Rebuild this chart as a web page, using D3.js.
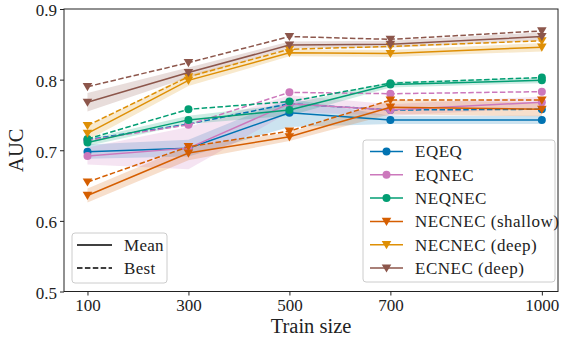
<!DOCTYPE html>
<html>
<head>
<meta charset="utf-8">
<script src="https://cdn.jsdelivr.net/npm/d3@7"></script>
<style>
  body { margin: 0; background: #fff; }
  svg text { font-family: "Liberation Serif", "DejaVu Serif", serif; fill: #222; }
</style>
</head>
<body>
<div id="chart"></div>
<script>
// Train sizes on the x axis
const trainSizes = [100, 300, 500, 700, 1000];
const yTicks = [0.5, 0.6, 0.7, 0.8, 0.9];

const seriesNames = ["EQEQ", "EQNEC", "NEQNEC", "NECNEC (shallow)", "NECNEC (deep)", "ECNEC (deep)"];
const seriesColors = ["#0173b2", "#cc78bc", "#029e73", "#d55e00", "#de8f05", "#8c564b"];
const seriesMarkers = ["circle", "circle", "circle", "tri", "tri", "tri"];

// mean AUC per train size
const meanEQEQ = [0.698, 0.703, 0.753, 0.743, 0.743];
const meanEQNEC = [0.692, 0.703, 0.766, 0.757, 0.768];
const meanNEQNEC = [0.711, 0.743, 0.757, 0.793, 0.799];
const meanNECshallow = [0.636, 0.696, 0.719, 0.761, 0.758];
const meanNECdeep = [0.724, 0.799, 0.838, 0.837, 0.846];
const meanECNEC = [0.768, 0.810, 0.849, 0.850, 0.861];

// best AUC per train size
const bestEQEQ = [0.715, 0.737, 0.766, 0.757, 0.758];
const bestEQNEC = [0.714, 0.736, 0.782, 0.780, 0.783];
const bestNEQNEC = [0.716, 0.758, 0.769, 0.795, 0.803];
const bestNECshallow = [0.655, 0.705, 0.727, 0.771, 0.771];
const bestNECdeep = [0.735, 0.804, 0.843, 0.847, 0.855];
const bestECNEC = [0.790, 0.824, 0.861, 0.857, 0.869];

// std of the mean (shaded band)
const stdEQEQ = [0.010, 0.012, 0.020, 0.006, 0.006];
const stdEQNEC = [0.012, 0.030, 0.012, 0.008, 0.008];
const stdNEQNEC = [0.005, 0.006, 0.008, 0.004, 0.004];
const stdNECshallow = [0.010, 0.010, 0.006, 0.010, 0.010];
const stdNECdeep = [0.010, 0.008, 0.005, 0.005, 0.006];
const stdECNEC = [0.013, 0.007, 0.005, 0.005, 0.006];

const means = [meanEQEQ, meanEQNEC, meanNEQNEC, meanNECshallow, meanNECdeep, meanECNEC];
const bests = [bestEQEQ, bestEQNEC, bestNEQNEC, bestNECshallow, bestNECdeep, bestECNEC];
const stds = [stdEQEQ, stdEQNEC, stdNEQNEC, stdNECshallow, stdNECdeep, stdECNEC];

const series = seriesNames.map((name, i) => ({
  name: name,
  color: seriesColors[i],
  marker: seriesMarkers[i],
  mean: means[i],
  best: bests[i],
  std: stds[i],
}));

const width = 563, height = 340;
const margin = { top: 9, right: 5, bottom: 48.5, left: 64 };

const svg = d3.select("#chart").append("svg")
  .attr("width", width)
  .attr("height", height);

const x = d3.scaleLinear()
  .domain([53.5, 1032])
  .range([margin.left, width - margin.right]);
const y = d3.scaleLinear()
  .domain([0.5, 0.9])
  .range([height - margin.bottom, margin.top]);

const plot = svg.append("g");

// shaded std bands
series.forEach((s) => {
  const area = d3.area()
    .x((d, i) => x(trainSizes[i]))
    .y0((d, i) => y(d - s.std[i]))
    .y1((d, i) => y(d + s.std[i]));
  plot.append("path")
    .attr("d", area(s.mean))
    .attr("fill", s.color)
    .attr("fill-opacity", 0.2);
});

const line = d3.line().x((d, i) => x(trainSizes[i])).y((d) => y(d));

function drawMarker(g, type, cx, cy, color) {
  if (type === "circle") {
    g.append("circle").attr("cx", cx).attr("cy", cy).attr("r", 4)
      .attr("fill", color);
  } else {
    const r = 4.8;
    g.append("path")
      .attr("d", `M${cx - r},${cy - r * 0.75} L${cx + r},${cy - r * 0.75} L${cx},${cy + r * 0.95} Z`)
      .attr("fill", color);
  }
}

series.forEach((s) => {
  plot.append("path")
    .attr("d", line(s.best))
    .attr("fill", "none")
    .attr("stroke", s.color)
    .attr("stroke-width", 1.5)
    .attr("stroke-dasharray", "5.5,2.4");
  plot.append("path")
    .attr("d", line(s.mean))
    .attr("fill", "none")
    .attr("stroke", s.color)
    .attr("stroke-width", 1.5);
  [s.best, s.mean].forEach((arr) => {
    arr.forEach((v, i) => drawMarker(plot, s.marker, x(trainSizes[i]), y(v), s.color));
  });
});

// frame
svg.append("rect")
  .attr("x", margin.left)
  .attr("y", margin.top)
  .attr("width", width - margin.left - margin.right)
  .attr("height", height - margin.top - margin.bottom)
  .attr("fill", "none")
  .attr("stroke", "#222")
  .attr("stroke-width", 1);

// axes
const xAxis = svg.append("g")
  .attr("transform", `translate(0,${height - margin.bottom})`)
  .call(d3.axisBottom(x).tickValues(trainSizes).tickSize(4).tickPadding(3).tickFormat(d3.format("d")));
const yAxis = svg.append("g")
  .attr("transform", `translate(${margin.left},0)`)
  .call(d3.axisLeft(y).tickValues(yTicks).tickSize(4).tickPadding(3).tickFormat(d3.format(".1f")));
[xAxis, yAxis].forEach((a) => {
  a.select(".domain").remove();
  a.selectAll("text").style("font-size", "17px").attr("fill", "#222");
  a.selectAll("line").attr("stroke", "#222");
});
yAxis.selectAll("text").attr("dy", "0.4em");

svg.append("text")
  .attr("x", (margin.left + width - margin.right) / 2)
  .attr("y", 333)
  .attr("text-anchor", "middle")
  .style("font-size", "20.5px")
  .text("Train size");
svg.append("text")
  .attr("transform", `translate(23,${(margin.top + height - margin.bottom) / 2}) rotate(-90)`)
  .attr("text-anchor", "middle")
  .style("font-size", "20.5px")
  .text("AUC");

// series legend
const leg = svg.append("g");
leg.append("rect")
  .attr("x", 363).attr("y", 140).attr("width", 192).attr("height", 142)
  .attr("rx", 3)
  .attr("fill", "#fff").attr("fill-opacity", 0.8)
  .attr("stroke", "#ccc");
series.forEach((s, i) => {
  const ly = 151.5 + i * 23.3;
  leg.append("line")
    .attr("x1", 370).attr("x2", 403).attr("y1", ly).attr("y2", ly)
    .attr("stroke", s.color).attr("stroke-width", 1.5);
  drawMarker(leg, s.marker, 386.5, ly, s.color);
  leg.append("text")
    .attr("x", 415).attr("y", ly)
    .attr("dy", "0.35em")
    .style("font-size", "17px")
    .style("letter-spacing", "0.5px")
    .text(s.name);
});

// line style legend
const styleNames = ["Mean", "Best"];
const styleDash = [null, "5.5,2.4"];
const leg2 = svg.append("g");
leg2.append("rect")
  .attr("x", 72).attr("y", 233).attr("width", 95).attr("height", 50)
  .attr("rx", 3)
  .attr("fill", "#fff").attr("fill-opacity", 0.8)
  .attr("stroke", "#ccc");
styleNames.forEach((n, i) => {
  const ly = 245 + i * 23;
  leg2.append("line")
    .attr("x1", 77).attr("x2", 112).attr("y1", ly).attr("y2", ly)
    .attr("stroke", "#000").attr("stroke-width", 1.5)
    .attr("stroke-dasharray", styleDash[i]);
  leg2.append("text")
    .attr("x", 124).attr("y", ly)
    .attr("dy", "0.35em")
    .style("font-size", "17px")
    .style("letter-spacing", "0.3px")
    .text(n);
});
</script>
</body>
</html>
